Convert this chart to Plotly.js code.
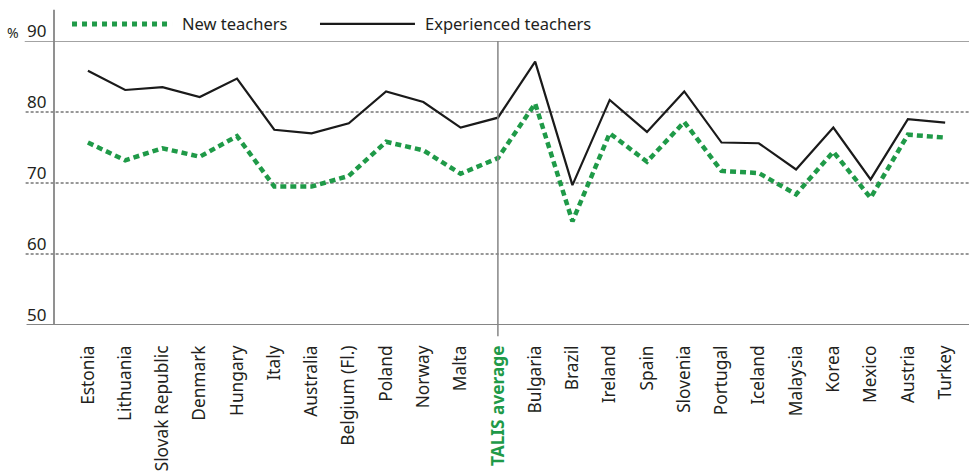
<!DOCTYPE html>
<html><head><meta charset="utf-8">
<script src="https://cdn.plot.ly/plotly-3.0.1.min.js"></script>
<style>body{margin:0;background:#fff}#chart{width:969px;height:476px}</style>
</head><body><div id="chart"></div>
<script>
const categories = ["Estonia","Lithuania","Slovak Republic","Denmark","Hungary","Italy","Australia","Belgium (Fl.)","Poland","Norway","Malta","TALIS average","Bulgaria","Brazil","Ireland","Spain","Slovenia","Portugal","Iceland","Malaysia","Korea","Mexico","Austria","Turkey"];
const newTeachers = [75.7,73.2,74.9,73.7,76.6,69.5,69.5,71.0,75.8,74.6,71.3,73.5,81.2,64.6,77.0,73.0,78.6,71.7,71.4,68.4,74.4,67.9,76.8,76.4];
const experiencedTeachers = [85.8,83.1,83.5,82.1,84.7,77.5,77.0,78.4,82.9,81.4,77.8,79.2,87.1,69.7,81.7,77.2,82.9,75.7,75.6,71.9,77.8,70.5,79.0,78.5];
const yTicks = [50,60,70,80,90];
const legendNames = ["New teachers","Experienced teachers"];

const FONT = "Noto Sans, Open Sans, sans-serif";
const TXT = "#231f20";
const GREEN = "#1f9a48";
const FS = 16.5;
const xIdx = categories.map((_, i) => i);
const tickText = categories.map(c => c === "TALIS average" ? '<b><span style="color:' + GREEN + '">' + c + '</span></b>' : c);

const traces = [
  {x: xIdx, y: experiencedTeachers, type: "scatter", mode: "lines", line: {color: "#1a1a1a", width: 2.2}, hoverinfo: "skip"},
  {x: xIdx, y: newTeachers, type: "scatter", mode: "lines", line: {color: GREEN, width: 4.5, dash: "6px,4px"}, hoverinfo: "skip"}
];

const GRAY = "#858585";
const shapes = [];
[60,70,80].forEach(v => shapes.push({type:"line", xref:"paper", yref:"y", x0:-0.031, x1:1, y0:v, y1:v, line:{color:"#333", width:1, dash:"3px,2px"}, layer:"below"}));
shapes.push({type:"line", xref:"paper", yref:"y", x0:-0.032, x1:1, y0:90, y1:90, line:{color:GRAY, width:1.5}});
shapes.push({type:"line", xref:"paper", yref:"y", x0:-0.030, x1:1, y0:50, y1:50, line:{color:GRAY, width:1.8}});
shapes.push({type:"line", xref:"paper", yref:"paper", x0:0, x1:0, y0:0, y1:1.11, line:{color:GRAY, width:1.8}});
shapes.push({type:"line", xref:"x", yref:"paper", x0:11, x1:11, y0:-0.04, y1:1, line:{color:GRAY, width:1.5}});
shapes.push({type:"line", xref:"paper", yref:"paper", x0:0.0197, x1:0.129, y0:1.06, y1:1.06, line:{color:GREEN, width:5, dash:"5px,5px"}});
shapes.push({type:"line", xref:"paper", yref:"paper", x0:0.2907, x1:0.3945, y0:1.06, y1:1.06, line:{color:"#1a1a1a", width:2.2}});

const annotations = [];
yTicks.forEach(v => annotations.push({xref:"paper", yref:"y", x:-0.007, y:v, xanchor:"right", yanchor:"bottom", text:String(v), showarrow:false, font:{family:FONT, size:17, color:TXT}, yshift:-3}));
annotations.push({xref:"paper", yref:"y", x:-0.036, y:90, xanchor:"right", yanchor:"bottom", text:"%", showarrow:false, font:{family:FONT, size:14, color:TXT}, yshift:-3});
annotations.push({xref:"paper", yref:"paper", x:0.138, y:1.06, xanchor:"left", yanchor:"middle", text:legendNames[0], showarrow:false, font:{family:FONT, size:FS, color:TXT}});
annotations.push({xref:"paper", yref:"paper", x:0.403, y:1.06, xanchor:"left", yanchor:"middle", text:legendNames[1], showarrow:false, font:{family:FONT, size:FS, color:TXT}});

const layout = {
  width: 969, height: 476,
  margin: {l: 54, r: 0, t: 41, b: 151},
  paper_bgcolor: "#fff", plot_bgcolor: "#fff",
  showlegend: false,
  xaxis: {range: [-0.91, 23.64], tickmode: "array", tickvals: xIdx, ticktext: tickText, tickangle: -90, showgrid: false, zeroline: false, showline: false, ticks: "", ticklabelstandoff: 16, tickfont: {family: FONT, size: 17.3, color: TXT}, fixedrange: true},
  yaxis: {range: [50, 90], showgrid: false, zeroline: false, showline: false, showticklabels: false, ticks: "", fixedrange: true},
  shapes: shapes,
  annotations: annotations
};
Plotly.newPlot("chart", traces, layout, {displayModeBar: false, staticPlot: true});
</script></body></html>
